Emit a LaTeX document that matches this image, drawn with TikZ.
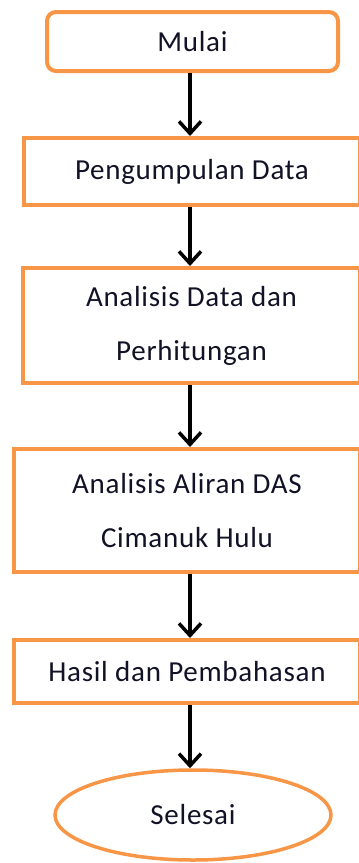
\documentclass[tikz,border=0pt]{standalone}
\usepackage{fontspec}
\setmainfont{Carlito}[LetterSpace=2.5]
\usetikzlibrary{arrows.meta,shapes.geometric}
\definecolor{boxorange}{RGB}{247,150,70}
\definecolor{textnavy}{RGB}{18,18,38}

\tikzset{
  procbox/.style={draw=boxorange,line width=4pt,fill=white,rectangle,align=center,inner sep=0pt,text=textnavy},
  startbox/.style={procbox,rounded corners=9pt},
  endoval/.style={draw=boxorange,line width=3.5pt,fill=white,ellipse,inner sep=0pt,text=textnavy},
  flowarrow/.style={-{Straight Barb[length=12pt,width=22pt,line width=3.5pt]},line width=3.5pt,black},
}

\begin{document}
\begin{tikzpicture}[x=1pt,y=-1pt,font=\fontsize{29}{54}\selectfont]
\useasboundingbox (0,0) rectangle (359,863);
\clip (0,0) rectangle (359,863);
\coordinate (axis) at (190,0);
\node[startbox,minimum width=291pt,minimum height=59pt] (mulai) at (192.5,41.5) {Mulai};
\node[procbox,minimum width=336pt,minimum height=67pt] (data) at (192,171.5) {Pengumpulan Data};
\node[procbox,minimum width=337pt,minimum height=115pt] (hitung) at (191.5,325.5) {Analisis Data dan\\Perhitungan};
\node[procbox,minimum width=346pt,minimum height=123pt] (aliran) at (187,510.5) {Analisis Aliran DAS\\Cimanuk Hulu};
\node[procbox,minimum width=346pt,minimum height=63pt] (hasil) at (187,671.5) {Hasil dan Pembahasan};
\node[endoval,minimum width=276pt,minimum height=90pt] (selesai) at (193,815) {Selesai};
% connectors
\draw[flowarrow] (axis |- mulai.south) -- (axis |- data.north);
\draw[flowarrow] (axis |- data.south) -- (axis |- hitung.north);
\draw[flowarrow] (axis |- hitung.south) -- (axis |- aliran.north);
\draw[flowarrow] (axis |- aliran.south) -- (axis |- hasil.north);
\draw[flowarrow] (axis |- hasil.south) -- (axis |- selesai.north);
\end{tikzpicture}
\end{document}
